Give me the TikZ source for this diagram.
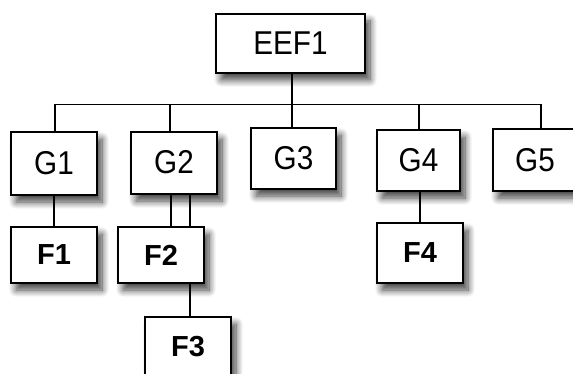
\documentclass[tikz,border=0pt]{standalone}
\usepackage{fontspec}
\setmainfont{Liberation Sans}
\newfontfamily\narrowsans{Liberation Sans}[FakeStretch=0.9]
\usetikzlibrary{shadows.blur,backgrounds,calc}
\begin{document}
\begin{tikzpicture}[x=1pt,y=-1pt,
  box/.style={draw=black, line width=1.6pt, fill=white, inner sep=0pt,
    blur shadow={shadow xshift=5pt, shadow yshift=-7pt, shadow blur radius=7pt, shadow blur steps=10, shadow opacity=75},
    font=\narrowsans\fontsize{33}{38}\selectfont},
  gbox/.style={box},
  fbox/.style={box, font=\fontsize{29}{34}\selectfont\bfseries},
  conn/.style={line width=1.2pt, black}]
\useasboundingbox (0,0) rectangle (573,374);
\node[box, minimum width=149pt, minimum height=59pt] (EEF1) at (290.5,43.5) {EEF1};
\node[gbox, minimum width=86pt, minimum height=63pt] (G1) at (54,163.5) {\raisebox{2pt}{G1}};
\node[gbox, minimum width=86pt, minimum height=62pt] (G2) at (174,163) {\raisebox{2pt}{G2}};
\node[gbox, minimum width=85pt, minimum height=61pt] (G3) at (293.5,158.5) {\raisebox{1pt}{G3}};
\node[gbox, minimum width=83pt, minimum height=61pt] (G4) at (418.5,160.5) {\raisebox{1pt}{G4}};
\node[gbox, minimum width=84pt, minimum height=62pt] (G5) at (535,160) {\raisebox{1pt}{G5}};
\node[fbox, minimum width=86pt, minimum height=56pt] (F1) at (54,255) {F1};
\node[fbox, minimum width=86pt, minimum height=56pt] (F2) at (161,255) {F2};
\node[fbox, minimum width=86pt, minimum height=60pt] (F3) at (188,347) {F3};
\node[fbox, minimum width=86pt, minimum height=60pt] (F4) at (420,253) {F4};
\begin{scope}[on background layer]
  \coordinate (bus) at ($(EEF1.south)+(1.5,31)$);
  \coordinate (eb) at ([xshift=1.5pt]EEF1.south);
  \draw[conn] (eb) -- (bus);
  \draw[conn] (bus) -| ([xshift=1pt]G1.north);
  \draw[conn] (bus) -| ([xshift=-4pt]G2.north);
  \draw[conn] (bus) -- (bus |- G3.north);
  \draw[conn] (bus) -| ([xshift=0.5pt]G4.north);
  \draw[conn] (bus) -| ([xshift=6pt]G5.north);
  \draw[conn] (G1.south) -- (G1.south |- F1.north);
  \coordinate (g2a) at ([xshift=-3pt]G2.south);
  \coordinate (g2b) at ([xshift=16pt]G2.south);
  \draw[conn] (g2a) -- (g2a |- F2.north);
  \draw[conn] (g2b) -- (g2b |- F3.north);
  \draw[conn] ([xshift=1.5pt]G4.south) -- ([xshift=1.5pt]G4.south |- F4.north);
\end{scope}
\end{tikzpicture}
\end{document}
